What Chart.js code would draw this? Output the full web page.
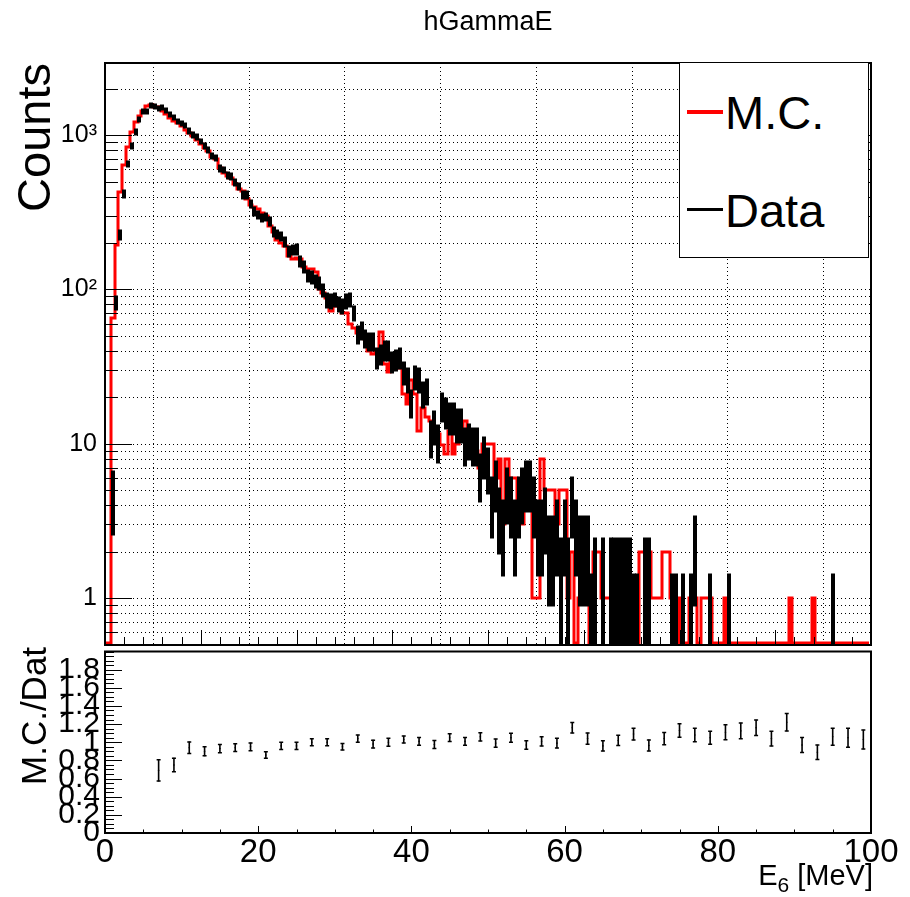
<!DOCTYPE html>
<html>
<head>
<meta charset="utf-8">
<title>hGammaE</title>
<script src="https://cdn.jsdelivr.net/npm/chart.js@4.4.1/dist/chart.umd.min.js"></script>
<style>
  html, body { margin: 0; padding: 0; background: #fff; }
  #page { position: relative; width: 910px; height: 897px; overflow: hidden;
          font-family: 'Liberation Sans', Arial, sans-serif; color: #000; }
  #top, #bottom { position: absolute; left: 0; }
  #top { top: 0; }
  #bottom { top: 646px; }
  #legend { position: absolute; left: 679px; top: 62px; width: 188px; height: 194px;
            border: 1px solid #000; background: #fff; }
  #legend .mark { position: absolute; left: 7px; width: 36px; height: 4px; }
  #legend .txt { position: absolute; left: 45px; font-size: 47px; line-height: 46px; white-space: nowrap; }
  #ratio-title-box { position: absolute; left: 0; top: 646px; width: 70px; height: 200px; overflow: hidden; }
  #ratio-title { position: absolute; left: 16px; top: 139px; font-size: 35px; line-height: 35px;
                 white-space: nowrap; transform-origin: 0 0; transform: rotate(-90deg); }
  #energy-title { position: absolute; right: 37px; top: 861px; font-size: 29px; line-height: 29px;
                  white-space: nowrap; }
  #energy-title sub { font-size: 21px; line-height: 0; vertical-align: -7px; }
</style>
</head>
<body>
<div id="page">
  <canvas id="top" width="910" height="646"></canvas>
  <canvas id="bottom" width="910" height="251"></canvas>
  <div id="legend">
    <div class="mark" style="top:47px;background:#ff0000"></div>
    <div class="txt" style="top:27px">M.C.</div>
    <div class="mark" style="top:145px;height:3px;background:#000"></div>
    <div class="txt" style="top:125px">Data</div>
  </div>
  <div id="ratio-title-box"><div id="ratio-title">M.C./Data</div></div>
  <div id="energy-title">E<sub>6</sub> [MeV]</div>
</div>
<script>
'use strict';

/* hGammaE — photon energy, M.C. against Data.
 * 200 bins of 0.5 MeV, centred on 0, 0.5, ... 99.5 MeV.
 * Lower pad: M.C./Data in 2 MeV bins. */
var BIN_WIDTH = 0.5;
var FIRST_CENTRE = 0;
var Y_MIN = 0.4958;
var Y_MAX = 2933;
var ZERO_LEVEL = 0.51;   // empty M.C. bins are drawn on the frame, ROOT style
var FONT = "'Liberation Sans', Arial, sans-serif";

var mcCounts = [
  0, 0, 0, 65, 194, 430, 640, 841, 1040, 1220,
  1320, 1440, 1540, 1560, 1530, 1530, 1440, 1370, 1300, 1240,
  1190, 1150, 1080, 1030, 985, 930, 880, 830, 785, 720,
  700, 615, 570, 545, 525, 480, 445, 435, 385, 350,
  340, 330, 315, 300, 258, 236, 210, 200, 190, 165,
  158, 160, 158, 140, 136, 136, 130, 101, 95, 88,
  72, 78, 80, 70, 70, 60, 56, 52, 50, 48,
  40, 38, 40, 53, 33, 29, 37, 38, 31, 21,
  18, 26, 21, 12, 17, 15, 14, 11, 11.5, 9.8,
  8.6, 12, 8.6, 10, 11, 14, 10, 12, 9, 7,
  10, 10, 10, 6, 8, 3, 8, 6, 6, 4,
  3, 5, 4, 1, 1, 8, 5, 5, 5, 3,
  5, 5, 1, 2, 0, 1, 2, 1, 0, 2,
  2, 1, 1, 1, 1, 1, 1, 1, 1, 1,
  0, 2, 2, 2, 1, 1, 1, 2, 2, 1,
  0, 1, 0, 0, 1, 1, 0, 1, 1, 1,
  0, 0, 0, 1, 0, 0, 0, 0, 0, 0,
  0, 0, 0, 0, 0, 0, 0, 0, 0, 0,
  1, 0, 0, 0, 0, 0, 1, 0, 0, 0,
  0, 0, 0, 0, 0, 0, 0, 0, 0, 0
];

var dataCounts = [
  0, 0, 4.6, 82, 225, 415, 650, 850, 1050, 1255,
  1420, 1430, 1550, 1530, 1480, 1510, 1440, 1370, 1300, 1230,
  1195, 1150, 1060, 1000, 970, 910, 850, 800, 730, 710,
  610, 595, 550, 540, 490, 465, 410, 410, 360, 320,
  305, 290, 295, 275, 236, 228, 220, 204, 176, 180,
  182, 152, 140, 123, 120, 113, 110, 99, 85, 84,
  86, 80, 78, 84, 86, 70, 51, 54, 48, 46,
  46, 36, 38, 40, 40, 34, 35, 36, 29, 26,
  18.5, 27, 26, 21, 22, 11, 13, 10.3, 17.5, 16,
  14.8, 14.8, 13.4, 13.4, 9.9, 10.6, 9.9, 9.9, 6.35, 8.46,
  7.05, 4.23, 5.64, 3.53, 2.82, 4.94, 4.23, 2.82, 4.23, 4.94,
  5.64, 5.64, 4.23, 2.82, 2.82, 3.53, 2.12, 2.12, 2.82, 1.41,
  2.82, 1.41, 4.23, 2.82, 2.12, 2.12, 2.12, 0.705, 1.41, 0,
  1.41, 0, 1.41, 1.41, 1.41, 1.41, 1.41, 1.41, 0.705, 0.705,
  0, 1.41, 1.41, 0, 0, 0, 0, 0, 0.705, 0.705,
  0, 0.705, 0, 0.705, 2.12, 0, 0, 0, 0.705, 0,
  0, 0, 0, 0.705, 0, 0, 0, 0, 0, 0,
  0, 0, 0, 0, 0, 0, 0, 0, 0, 0,
  0, 0, 0, 0, 0, 0, 0, 0, 0, 0,
  0.705, 0, 0, 0, 0, 0, 0, 0, 0, 0
];

var dataErrors = [
  0, 0, 2.0, 7.6, 12.6, 17, 21.4, 24.5, 27.2, 29.8,
  31.7, 31.8, 33, 32.9, 32.3, 32.6, 31.9, 31.1, 30.3, 29.5,
  29, 28.5, 27.3, 26.6, 26.2, 25.3, 24.5, 23.8, 22.7, 22.4,
  20.7, 20.5, 19.7, 19.5, 18.6, 18.1, 17, 17, 15.9, 15,
  14.7, 14.3, 14.4, 13.9, 12.9, 12.7, 12.5, 12, 11.1, 11.3,
  11.3, 10.4, 9.9, 9.3, 9.2, 8.9, 8.8, 8.4, 7.7, 7.7,
  7.8, 7.5, 7.4, 7.7, 7.8, 7.0, 6.0, 6.2, 5.8, 5.7,
  5.7, 5.0, 5.2, 5.3, 5.3, 4.9, 5.0, 5.0, 4.5, 4.3,
  3.6, 4.4, 4.3, 3.8, 3.9, 2.8, 3.0, 2.7, 3.5, 3.4,
  3.2, 3.2, 3.1, 3.1, 2.6, 2.7, 2.6, 2.6, 2.1, 2.44,
  2.23, 1.73, 1.99, 1.58, 1.41, 1.87, 1.73, 1.41, 1.73, 1.87,
  1.99, 1.99, 1.73, 1.41, 1.41, 1.58, 1.22, 1.22, 1.41, 1.0,
  1.41, 1.0, 1.73, 1.41, 1.22, 1.22, 1.22, 0.705, 1.0, 0,
  1.0, 0, 1.0, 1.0, 1.0, 1.0, 1.0, 1.0, 0.705, 0.705,
  0, 1.0, 1.0, 0, 0, 0, 0, 0, 0.705, 0.705,
  0, 0.705, 0, 0.705, 1.22, 0, 0, 0, 0.705, 0,
  0, 0, 0, 0.705, 0, 0, 0, 0, 0, 0,
  0, 0, 0, 0, 0, 0, 0, 0, 0, 0,
  0, 0, 0, 0, 0, 0, 0, 0, 0, 0,
  0.705, 0, 0, 0, 0, 0, 0, 0, 0, 0
];

var ratioEnergy = [7, 9, 11, 13, 15, 17, 19, 21, 23, 25, 27, 29, 31, 33, 35, 37, 39, 41, 43, 45,
  47, 49, 51, 53, 55, 57, 59, 61, 63, 65, 67, 69, 71, 73, 75, 77, 79, 81, 83, 85, 87, 89, 91, 93,
  95, 97, 99];
var ratioValues = [0.69, 0.75, 0.94, 0.90, 0.93, 0.94, 0.95, 0.86, 0.96, 0.96, 1.00, 1.00, 0.95,
  1.04, 0.98, 1.00, 1.03, 1.01, 0.975, 1.05, 1.01, 1.06, 0.99, 1.05, 0.97, 1.01, 0.99, 1.16, 1.04,
  0.96, 1.02, 1.09, 0.965, 1.04, 1.13, 1.08, 1.05, 1.11, 1.125, 1.16, 1.04, 1.22, 0.97, 0.89,
  1.06, 1.05, 1.03];
var ratioErrors = [0.118, 0.075, 0.064, 0.05, 0.046, 0.043, 0.043, 0.036, 0.039, 0.039, 0.039,
  0.039, 0.036, 0.039, 0.043, 0.043, 0.039, 0.043, 0.043, 0.043, 0.043, 0.046, 0.046, 0.05, 0.046,
  0.05, 0.054, 0.057, 0.061, 0.057, 0.057, 0.064, 0.061, 0.068, 0.075, 0.075, 0.071, 0.082, 0.086,
  0.086, 0.082, 0.096, 0.082, 0.079, 0.093, 0.104, 0.104];

var countTickValues = [1, 10, 100, 1000];
var countTickLabels = ['1', '10', '10²', '10³'];
var countGridValues = [0.6, 0.7, 0.8, 0.9, 1, 2, 3, 4, 5, 6, 7, 8, 9, 10, 20, 30, 40, 50, 60, 70,
  80, 90, 100, 200, 300, 400, 500, 600, 700, 800, 900, 1000, 2000];
var countMinorValues = [0.6, 0.7, 0.8, 0.9, 2, 3, 4, 5, 6, 7, 8, 9, 20, 30, 40, 50, 60, 70, 80, 90,
  200, 300, 400, 500, 600, 700, 800, 900, 2000];
var energyTickValues = [0, 20, 40, 60, 80, 100];
var ratioTickValues = [0, 0.2, 0.4, 0.6, 0.8, 1, 1.2, 1.4, 1.6, 1.8];
var ratioTickLabels = ['0', '0.2', '0.4', '0.6', '0.8', '1', '1.2', '1.4', '1.6', '1.8'];

/* evenly spaced tick positions for the small inner tick marks */
function steps(from, to, step) {
  var out = [];
  for (var k = 0; from + k * step <= to + 1e-9; k++) out.push(+(from + k * step).toFixed(4));
  return out;
}

/* ROOT draws its tick marks inside the frame; also the frame itself */
var frameTicks = {
  id: 'frameTicks',
  afterDatasetsDraw: function (chart, args, opts) {
    var a = chart.chartArea, ctx = chart.ctx;
    ctx.save();
    ctx.strokeStyle = '#000';
    ctx.lineWidth = 1;
    ctx.beginPath();
    (opts.marks || []).forEach(function (m) {
      var scale = chart.scales[m.axis];
      m.values.forEach(function (v) {
        var p = Math.round(scale.getPixelForValue(v)) + 0.5;
        if (m.axis === 'x') { ctx.moveTo(p, a.bottom); ctx.lineTo(p, a.bottom - m.len); }
        else { ctx.moveTo(a.left, p); ctx.lineTo(a.left + m.len, p); }
      });
    });
    ctx.stroke();
    ctx.lineWidth = 2;
    ctx.strokeRect(a.left, a.top, a.right - a.left, a.bottom - a.top);
    ctx.restore();
  }
};

// step line through the bin edges, data as floating error bars at the bin centres
var mcPoints = mcCounts.map(function (v, i) {
  return { x: FIRST_CENTRE + (i - 0.5) * BIN_WIDTH, y: v > 0 ? v : ZERO_LEVEL };
});
mcPoints.push({ x: FIRST_CENTRE + (mcCounts.length - 0.5) * BIN_WIDTH, y: mcPoints[mcPoints.length - 1].y });

var dataBars = [];
dataCounts.forEach(function (v, i) {
  if (v <= 0) return;
  var lo = v - dataErrors[i];
  dataBars.push({ x: FIRST_CENTRE + i * BIN_WIDTH, y: [lo > Y_MIN ? lo : Y_MIN, v + dataErrors[i]] });
});

var ratioBars = [], ratioCaps = [], ratioPoints = [];
ratioValues.forEach(function (v, i) {
  var lo = v - ratioErrors[i], hi = v + ratioErrors[i];
  ratioBars.push({ x: ratioEnergy[i], y: [lo, hi] });
  ratioCaps.push({ x: ratioEnergy[i], y: lo }, { x: ratioEnergy[i], y: hi });
  ratioPoints.push({ x: ratioEnergy[i], y: v });
});

function noPad(s) { s.paddingTop = 0; s.paddingBottom = 0; s.paddingLeft = 0; s.paddingRight = 0; }

new Chart(document.getElementById('top'), {
  type: 'line',
  data: {
    datasets: [
      { type: 'bar', label: 'Data', data: dataBars, backgroundColor: '#000', borderWidth: 0,
        barThickness: 1, inflateAmount: 1.5, order: 1 },
      { type: 'line', label: 'M.C.', data: mcPoints, borderColor: '#ff0000', borderWidth: 3,
        stepped: 'after', pointRadius: 0, fill: false, clip: 0, borderJoinStyle: 'miter', order: 2 }
    ]
  },
  options: {
    responsive: false,
    animation: false,
    devicePixelRatio: 1,
    layout: { padding: { top: 0, right: 39, bottom: 1, left: 0 } },
    plugins: {
      legend: { display: false },
      tooltip: { enabled: false },
      title: {
        display: true, text: 'hGammaE', color: '#000', fullSize: false,
        font: { family: FONT, size: 27, weight: 'normal', lineHeight: 1 },
        padding: { top: 9, bottom: 27 }
      },
      frameTicks: {
        marks: [
          { axis: 'x', values: steps(0, 100, 2.5), len: 8 },
          { axis: 'x', values: steps(0, 100, 12.5), len: 15 },
          { axis: 'y', values: countTickValues, len: 27 },
          { axis: 'y', values: countMinorValues, len: 12 }
        ]
      }
    },
    scales: {
      x: {
        type: 'linear', min: 0, max: 100, offset: false, alignToPixels: true,
        ticks: { display: false, stepSize: 12.5 },
        grid: { color: '#000', lineWidth: 1, drawTicks: false },
        border: { display: false, dash: [1, 3] },
        afterFit: function (s) { s.height = 0; noPad(s); }
      },
      y: {
        type: 'logarithmic', min: Y_MIN, max: Y_MAX, alignToPixels: true,
        afterBuildTicks: function (s) {
          s.ticks = countGridValues.map(function (v) { return { value: v }; });
        },
        ticks: {
          autoSkip: false, padding: 8, color: '#000',
          font: { family: FONT, size: 25 },
          callback: function (v) {
            var k = countTickValues.indexOf(v);
            return k < 0 ? '' : countTickLabels[k];
          }
        },
        grid: { color: '#000', lineWidth: 1, drawTicks: false },
        border: { display: false, dash: [1, 3] },
        title: {
          display: true, text: 'Counts', align: 'end', color: '#000',
          font: { family: FONT, size: 47, lineHeight: 1 },
          padding: { top: 14, bottom: 0 }
        },
        afterFit: function (s) { s.width = 105; noPad(s); }
      }
    }
  },
  plugins: [frameTicks]
});

new Chart(document.getElementById('bottom'), {
  type: 'scatter',
  data: {
    datasets: [
      { type: 'bar', data: ratioBars, backgroundColor: '#000', borderWidth: 0, barThickness: 1,
        inflateAmount: 0.3 },
      { type: 'scatter', data: ratioCaps, pointStyle: 'line', pointRadius: 2, borderColor: '#000',
        borderWidth: 1.5 },
      { type: 'scatter', data: ratioPoints, pointStyle: 'circle', pointRadius: 0.8,
        backgroundColor: '#000', borderWidth: 0 }
    ]
  },
  options: {
    responsive: false,
    animation: false,
    devicePixelRatio: 1,
    layout: { padding: { top: 1, right: 39, bottom: 0, left: 0 } },
    plugins: {
      legend: { display: false },
      tooltip: { enabled: false },
      frameTicks: {
        marks: [
          { axis: 'x', values: steps(0, 100, 5), len: 3.5 },
          { axis: 'x', values: energyTickValues, len: 7 },
          { axis: 'y', values: steps(0, 2, 0.05), len: 9 },
          { axis: 'y', values: ratioTickValues, len: 17 }
        ]
      }
    },
    scales: {
      x: {
        type: 'linear', min: 0, max: 100, offset: false,
        afterBuildTicks: function (s) {
          s.ticks = energyTickValues.map(function (v) { return { value: v }; });
        },
        ticks: { autoSkip: false, maxRotation: 0, padding: 0, color: '#000', font: { family: FONT, size: 33 } },
        grid: { display: false, drawTicks: false },
        border: { display: false },
        afterFit: function (s) { s.height = 64; noPad(s); }
      },
      y: {
        type: 'linear', min: 0, max: 2,
        afterBuildTicks: function (s) {
          s.ticks = ratioTickValues.map(function (v) { return { value: v }; });
        },
        ticks: {
          autoSkip: false, padding: 5, color: '#000', font: { family: FONT, size: 30 },
          callback: function (v) { return ratioTickLabels[ratioTickValues.indexOf(v)]; }
        },
        grid: { display: false, drawTicks: false },
        border: { display: false },
        afterFit: function (s) { s.width = 105; noPad(s); }
      }
    }
  },
  plugins: [frameTicks]
});
</script>
</body>
</html>
